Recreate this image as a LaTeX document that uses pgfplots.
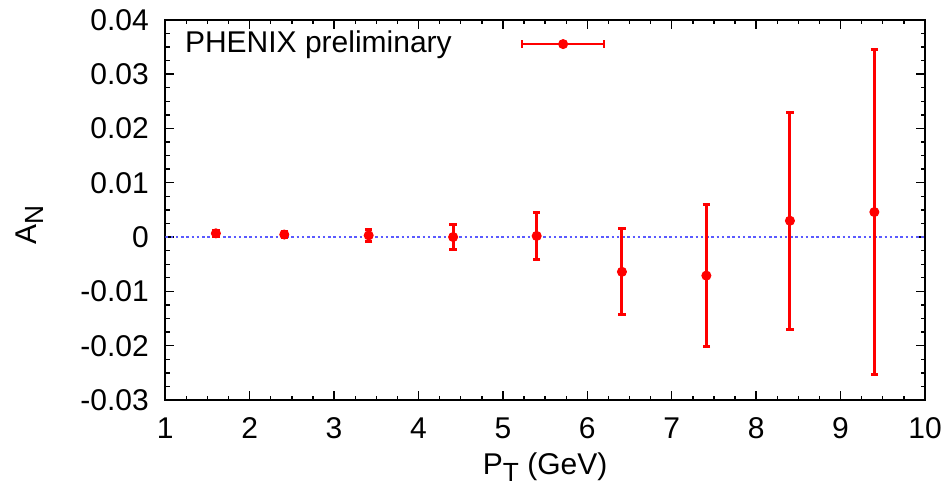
\documentclass[border=0pt]{standalone}
\usepackage{fontspec}
\setmainfont{Liberation Sans}
\usepackage{pgfplots}
\usepackage{pgfplotstable}
\pgfplotsset{compat=1.18}
\pgfplotstableread{
x y e
1.60 0.00068 0.0006
2.41 0.00046 0.0005
3.41 0.0003 0.00115
4.41 0.0000 0.00225
5.40 0.0002 0.0043
6.41 -0.0064 0.0079
7.41 -0.0071 0.0130
8.40 0.0030 0.0200
9.40 0.0046 0.0299
}\datatab
\begin{document}
\fontsize{12}{14}\selectfont
\begin{tikzpicture}[font=\fontsize{12}{14}\selectfont]
\path[use as bounding box] (-66.1pt,-36pt) rectangle (312.7pt,160pt);
\begin{axis}[
  at={(0pt,0pt)}, anchor=south west,
  scale only axis, width=303.9pt, height=152.1pt,
  xmin=1, xmax=10, ymin=-0.03, ymax=0.04,
  xtick={1,2,3,4,5,6,7,8,9,10},
  ytick={-0.03,-0.02,-0.01,0,0.01,0.02,0.03,0.04},
  yticklabels={-0.03,-0.02,-0.01,0,0.01,0.02,0.03,0.04},
  minor x tick num=3, minor y tick num=3,
  tick align=inside, xtick pos=both, ytick pos=both,
  major tick length=3.6pt, minor tick length=1.8pt,
  axis line style={line width=0.8pt},
  tick style={black, line width=0.55pt},
  /pgf/number format/assume math mode=true,
  scaled y ticks=false,
  yticklabel style={xshift=-2.4pt},
  xticklabel style={yshift=-3pt},
  xlabel={P\raisebox{-0.45ex}{\fontsize{10.5}{12}\selectfont T} (GeV)},
  ylabel={A\raisebox{-0.45ex}{\fontsize{10.5}{12}\selectfont N}},
  xlabel style={at={(rel axis cs:0.5,-0.176)}, anchor=center},
  ylabel style={at={(rel axis cs:-0.178,0.46)}, anchor=center},
  legend style={draw=none, fill=none, at={(rel axis cs:0.026,0.936)}, anchor=west,
    inner sep=0pt, outer sep=0pt, nodes={inner sep=0pt}},
  legend plot pos=right,
  legend cell align=left,
]
\addplot[draw={rgb,255:red,90;green,90;blue,255}, line width=0.7pt, dash pattern=on 1pt off 1.1pt, forget plot] coordinates {(1,0) (10,0)};
\addplot[red, only marks, mark=*, mark size=1.8pt, mark options={fill=red, draw=red},
  legend image code/.code={
    \draw[red, line width=1.1pt] (0pt,0pt) -- (32.8pt,0pt);
    \draw[red, line width=1.1pt] (0pt,-1.5pt) -- (0pt,1.5pt);
    \draw[red, line width=1.1pt] (32.8pt,-1.5pt) -- (32.8pt,1.5pt);
    \fill[red] (16.4pt,0pt) circle (1.8pt);
  },
  error bars/.cd, y dir=both, y explicit,
  error bar style={line width=1.2pt, red},
  error mark options={rotate=90, mark size=1.5pt, line width=1.2pt, red}]
  table[x=x, y=y, y error=e] {\datatab};
\addlegendentry{PHENIX preliminary\rule{27.6pt}{0pt}}
\end{axis}
\end{tikzpicture}
\end{document}
